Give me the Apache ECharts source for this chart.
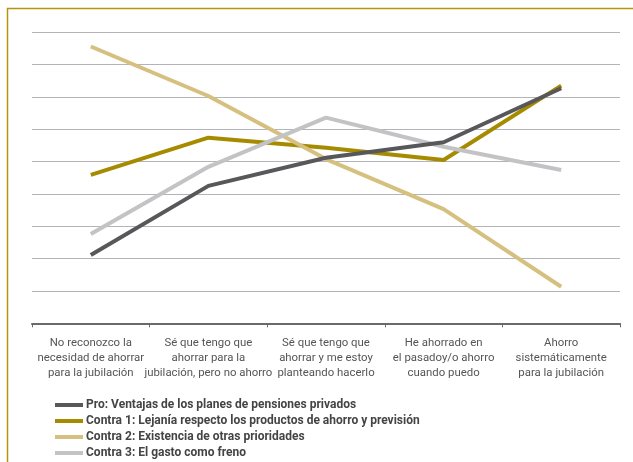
<!DOCTYPE html>
<html>
<head>
<meta charset="utf-8">
<script src="https://cdn.jsdelivr.net/npm/echarts@6/dist/echarts.min.js"></script>
<style>
html,body{margin:0;padding:0;background:#fff;}
#chart{width:633px;height:462px;}
</style>
</head>
<body>
<div id="chart"></div>
<script>
var categories = [
  'No reconozco la\nnecesidad de ahorrar\npara la jubilación',
  'Sé que tengo que\nahorrar para la\njubilación, pero no ahorro',
  'Sé que tengo que\nahorrar y me estoy\nplanteando hacerlo',
  'He ahorrado en\nel pasadoy/o ahorro\ncuando puedo',
  'Ahorro\nsistemáticamente\npara la jubilación'
];
var seriesNames = [
  'Pro: Ventajas de los planes de pensiones privados',
  'Contra 1: Lejanía respecto los productos de ahorro y previsión',
  'Contra 2: Existencia de otras prioridades',
  'Contra 3: El gasto como freno'
];
var proValues = [2.11, 4.25, 5.12, 5.60, 7.27];
var contra1Values = [4.59, 5.74, 5.43, 5.05, 7.35];
var contra2Values = [8.56, 7.03, 5.08, 3.53, 1.13];
var contra3Values = [2.76, 4.84, 6.36, 5.46, 4.74];
var seriesColors = ['#58585a', '#a68b00', '#d6c07f', '#c3c3c5'];
var seriesValues = [proValues, contra1Values, contra2Values, contra3Values];
var seriesZ = [5, 2, 3, 4];

var chart = echarts.init(document.getElementById('chart'), null, {renderer: 'canvas'});
var font = "'Roboto', sans-serif";

var option = {
  animation: false,
  backgroundColor: '#ffffff',
  grid: {left: 32, right: 13, top: 32.3, bottom: 138.7, containLabel: false},
  graphic: [{
    type: 'polyline',
    shape: {points: [[7.5, 462], [7.5, 8.5], [633, 8.5]]},
    style: {stroke: '#b39512', lineWidth: 1.5, fill: null},
    silent: true
  }],
  legend: {
    orient: 'vertical',
    left: 55,
    top: 398,
    padding: 0,
    itemWidth: 28,
    itemHeight: 4,
    itemGap: 2,
    icon: 'rect',
    data: seriesNames,
    textStyle: {fontFamily: font, fontSize: 12, lineHeight: 14, fontWeight: 'bold', color: '#444444', padding: [0, 0, 0, -2]}
  },
  xAxis: {
    type: 'category',
    data: categories,
    boundaryGap: true,
    axisLine: {lineStyle: {color: '#6a6a6a', width: 2}},
    axisTick: {show: true, length: 4, lineStyle: {color: '#6a6a6a', width: 1}},
    axisLabel: {interval: 0, margin: 12, fontFamily: font, fontSize: 11.4, color: '#555555', lineHeight: 15}
  },
  yAxis: {
    type: 'value',
    min: 0,
    max: 9,
    interval: 1,
    axisLine: {show: false},
    axisTick: {show: false},
    axisLabel: {show: false},
    splitLine: {lineStyle: {color: '#b4b4b8', width: 1.2}}
  },
  series: seriesNames.map(function (n, i) {
    return {
      name: n,
      type: 'line',
      data: seriesValues[i],
      z: seriesZ[i],
      symbol: 'none',
      lineStyle: {color: seriesColors[i], width: 4},
      itemStyle: {color: seriesColors[i]}
    };
  })
};
chart.setOption(option);
</script>
</body>
</html>
